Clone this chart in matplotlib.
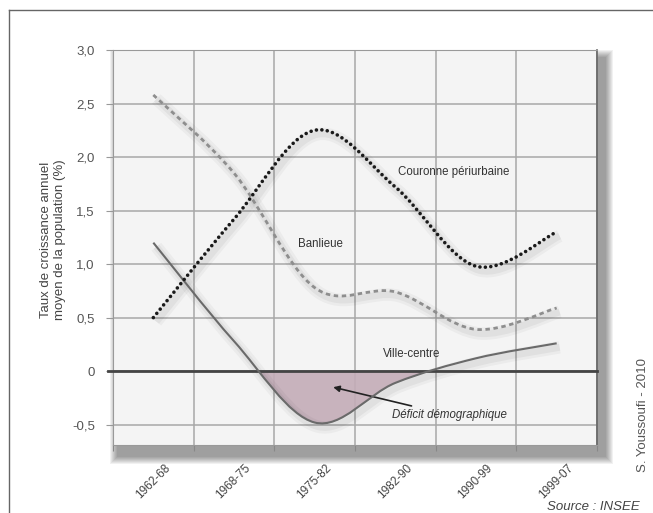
import numpy as np
import matplotlib
matplotlib.use('Agg')
import matplotlib.pyplot as plt
from matplotlib.path import Path
from matplotlib.patches import PathPatch, Rectangle
from matplotlib.transforms import ScaledTranslation
from matplotlib.lines import Line2D

plt.rcParams['font.family'] = ['Liberation Sans', 'DejaVu Sans']

# Données
periodes = ['1962-68', '1968-75', '1975-82', '1982-90', '1990-99', '1999-07']
couronne = [0.50, 1.42, 2.25, 1.72, 0.98, 1.30]
banlieue = [2.58, 1.85, 0.78, 0.74, 0.39, 0.59]
ville_centre = [1.20, 0.28, -0.48, -0.11, 0.12, 0.26]
graduations = [-0.5, 0, 0.5, 1.0, 1.5, 2.0, 2.5, 3.0]
etiquettes_y = ['-0,5', '0', '0,5', '1,0', '1,5', '2,0', '2,5', '3,0']

W, H = 653, 513


def chemin_lisse(xs, ys, fermer=False):
    # courbe lissée (Catmull-Rom convertie en Bézier, comme Excel)
    pts = [np.array(p, dtype=float) for p in zip(xs, ys)]
    ext = [pts[0]] + pts + [pts[-1]]
    verts = [tuple(pts[0])]
    codes = [Path.MOVETO]
    for i in range(1, len(ext) - 2):
        p0, p1, p2, p3 = ext[i - 1], ext[i], ext[i + 1], ext[i + 2]
        c1 = p1 + (p2 - p0) / 6
        c2 = p2 - (p3 - p1) / 6
        verts += [tuple(c1), tuple(c2), tuple(p2)]
        codes += [Path.CURVE4] * 3
    if fermer:
        verts += [(xs[-1], 0), (xs[0], 0), (xs[0], ys[0])]
        codes += [Path.LINETO, Path.LINETO, Path.CLOSEPOLY]
    return Path(verts, codes)


fig = plt.figure(figsize=(W / 100, H / 100), dpi=100)
fig.patch.set_facecolor('white')

# cadre de la figure (haut et gauche)
fig.add_artist(Line2D([9 / W, 1], [1 - 10 / H, 1 - 10 / H], color='#666666', lw=1, transform=fig.transFigure))
fig.add_artist(Line2D([9 / W, 9 / W], [0, 1 - 10 / H], color='#666666', lw=1, transform=fig.transFigure))

# ombre portée du graphique
x0, x1, y0, y1 = 117, 606, 57, 457
for k in range(8):
    fig.add_artist(Rectangle(((x0 - k) / W, 1 - (y1 + k) / H), (x1 - x0 + 2 * k) / W, (y1 - y0 + 2 * k) / H,
                             transform=fig.transFigure, facecolor='black', edgecolor='none',
                             alpha=0.055, zorder=-1))

ax = fig.add_axes([113 / W, 1 - 445 / H, (597 - 113) / W, (445 - 50) / H])
ax.set_facecolor('#f4f4f4')
ax.set_xlim(0, 6)
ax.set_ylim(-0.69, 3.0)

x = np.arange(len(periodes)) + 0.5

# grille
ax.set_xticks(range(7))
ax.set_xticklabels([])
ax.set_yticks(graduations)
ax.set_yticklabels(etiquettes_y)
ax.grid(True, color='#a8a8a8', lw=1.1)
ax.set_axisbelow(True)
ax.tick_params(axis='x', which='major', length=4, color='#888888', direction='out')
ax.tick_params(axis='y', length=5, color='#999999', labelsize=9.5, labelcolor='#555555', pad=8)

ax.set_xticks(x, minor=True)
ax.set_xticklabels(periodes, minor=True, rotation=45, ha='right', fontsize=8.5, color='#444444')
ax.tick_params(axis='x', which='minor', length=0, pad=12)
for lbl in ax.get_xticklabels(minor=True):
    lbl.set_transform(lbl.get_transform() + ScaledTranslation(0.19, 0, fig.dpi_scale_trans))

for cote in ['top', 'left', 'bottom']:
    ax.spines[cote].set_color('#999999')
ax.spines['right'].set_color('#666666')
ax.spines['right'].set_linewidth(1.2)

# déficit démographique (zone sous zéro)
zone = PathPatch(chemin_lisse(x, ville_centre, fermer=True), facecolor='#c4acb7',
                 edgecolor='none', alpha=0.9, zorder=2)
ax.add_patch(zone)
clip = Rectangle((0, -5), 6, 5, transform=ax.transData)
zone.set_clip_path(clip)

# ombres douces des courbes
ombre = ax.transData + ScaledTranslation(0.03, -0.04, fig.dpi_scale_trans)
for serie in [couronne, banlieue, ville_centre]:
    for lw, a in [(9, 0.035), (5, 0.045)]:
        ax.add_patch(PathPatch(chemin_lisse(x, serie), fill=False, edgecolor='black', lw=lw,
                               alpha=a, transform=ombre, zorder=2))

ax.axhline(0, color='#444444', lw=2, xmin=-0.011, clip_on=False, zorder=3)

ax.add_patch(PathPatch(chemin_lisse(x, ville_centre), fill=False, edgecolor='#6a6a6a',
                       lw=1.5, zorder=4))
ax.add_patch(PathPatch(chemin_lisse(x, banlieue), fill=False, edgecolor='#8e8e8e',
                       lw=2, linestyle=(0, (1.6, 1.3)), zorder=4))
ax.add_patch(PathPatch(chemin_lisse(x, couronne), fill=False, edgecolor='#1a1a1a',
                       lw=2.6, linestyle=(0, (0.01, 1.5)), capstyle='round', zorder=5))

# étiquettes des courbes
ax.text(3.53, 1.86, 'Couronne périurbaine', fontsize=8.3, color='#333333', va='center')
ax.text(2.29, 1.19, 'Banlieue', fontsize=8.3, color='#333333', va='center')
ax.text(3.35, 0.16, 'Ville-centre', fontsize=8.3, color='#333333', va='center')
ax.annotate('Déficit démographique', xy=(2.73, -0.15), xytext=(3.46, -0.41),
            fontsize=8.3, style='italic', color='#333333', va='center', ha='left',
            arrowprops=dict(arrowstyle='-|>', color='#222222', lw=1.2, mutation_scale=9,
                            shrinkA=1, shrinkB=0))

fig.text(53 / W, 1 - 240 / H, 'Taux de croissance annuel\nmoyen de la population (%)',
         rotation=90, ha='center', va='center', fontsize=9.5, color='#444444', linespacing=1.15)
fig.text(643 / W, 1 - 415 / H, 'S. Youssoufi - 2010', rotation=90, ha='center', va='center',
         fontsize=9.5, color='#555555')
fig.text(640 / W, 1 - 507 / H, 'Source : INSEE', ha='right', va='center', fontsize=9.5,
         style='italic', color='#444444')

fig.savefig('out.png', dpi=100)
